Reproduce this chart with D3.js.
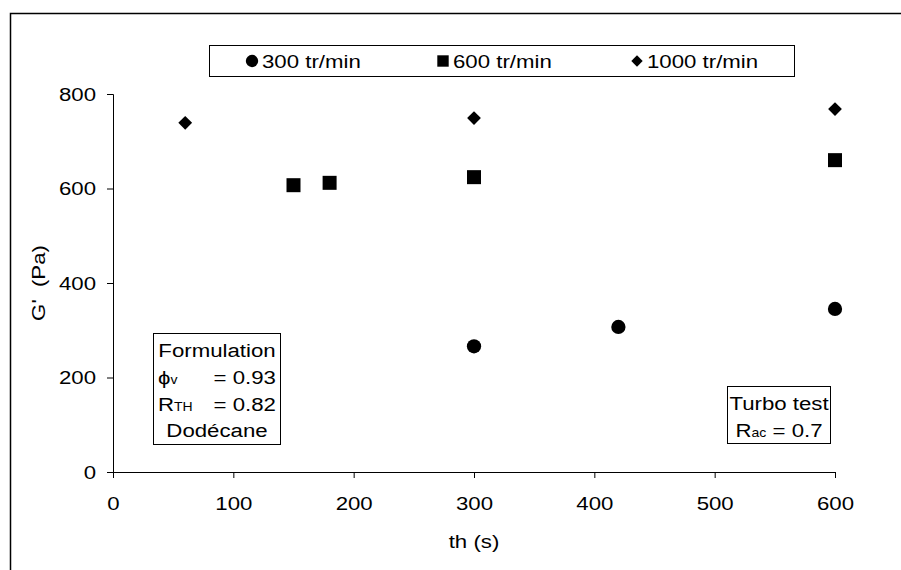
<!DOCTYPE html>
<html><head><meta charset="utf-8">
<script src="https://cdn.jsdelivr.net/npm/d3@7"></script>
<style>body{margin:0;background:#fff}text{font-family:"Liberation Sans",Arial,sans-serif;fill:#000;white-space:pre}</style>
</head><body><svg id="c" width="901" height="570"></svg>
<script>
const series = ["300 tr/min","600 tr/min","1000 tr/min"];
const s300x = [300,420,600];
const s300y = [266,307,345];
const s600x = [150,180,300,600];
const s600y = [607,612,624,660];
const s1000x = [60,300,600];
const s1000y = [739,749,768];
const xTicks = [0,100,200,300,400,500,600];
const yTicks = [0,200,400,600,800];

const FS = "19px", SUB = "12px", SX = 1.17;
const svg = d3.select("#c");
const x = d3.scaleLinear().domain([0,600]).range([113,835]);
const y = d3.scaleLinear().domain([0,800]).range([472,94]);

// stretch text horizontally about its own origin
function stretch(sel){
  sel.each(function(){
    const xv = +(this.getAttribute("x")||0);
    this.setAttribute("x", xv/SX);
    const t = this.getAttribute("transform")||"";
    this.setAttribute("transform", t+` scale(${SX},1)`);
  });
}

svg.append("rect").attr("x",10.5).attr("y",13.5).attr("width",900).attr("height",570)
  .attr("fill","none").attr("stroke","#000").attr("stroke-width",1.5);

const xa = svg.append("g").attr("transform","translate(0,472)")
  .call(d3.axisBottom(x).tickValues(xTicks).tickSize(6).tickPadding(19));
const ya = svg.append("g").attr("transform","translate(113,0)")
  .call(d3.axisLeft(y).tickValues(yTicks).tickSize(6).tickPadding(11));
[xa,ya].forEach(a=>{a.select(".domain").attr("stroke","#000");a.selectAll("line").attr("stroke","#000");
  a.selectAll("text").style("font-size",FS).style("font-family","Liberation Sans, Arial, sans-serif").attr("fill","#000");
  stretch(a.selectAll("text"));});

stretch(svg.append("text").attr("x",474).attr("y",548).attr("text-anchor","middle").style("font-size",FS).text("th (s)"));
stretch(svg.append("text").attr("transform","translate(45,283) rotate(-90)").attr("text-anchor","middle").style("font-size",FS).text("G'  (Pa)"));

const sym = [d3.symbolCircle, d3.symbolSquare, d3.symbolSquare];
const rot = [0,0,45];
const sizes = [160, 196, 95];
const data = [
  s300x.map((v,i)=>[v,s300y[i]]),
  s600x.map((v,i)=>[v,s600y[i]]),
  s1000x.map((v,i)=>[v,s1000y[i]])
];
data.forEach((d,k)=>{
  svg.append("g").selectAll("path").data(d).join("path")
    .attr("d", d3.symbol().type(sym[k]).size(sizes[k]))
    .attr("transform", p=>`translate(${x(p[0])},${y(p[1])}) rotate(${rot[k]})`)
    .attr("fill","#000");
});

// legend
svg.append("rect").attr("x",209.5).attr("y",45.5).attr("width",585).attr("height",31).attr("fill","#fff").attr("stroke","#000");
const legX = [252, 443, 637];
const legSizes = [120, 130, 65];
series.forEach((s,i)=>{
  svg.append("path").attr("d", d3.symbol().type(sym[i]).size(legSizes[i])).attr("transform",`translate(${legX[i]},61) rotate(${rot[i]})`).attr("fill","#000");
  stretch(svg.append("text").attr("x",legX[i]+10).attr("y",68).style("font-size",FS).text(s));
});

// annotation box 1
svg.append("rect").attr("x",153.5).attr("y",333.5).attr("width",127).attr("height",111).attr("fill","#fff").attr("stroke","#000");
const tx = [];
tx.push(svg.append("text").attr("x",217).attr("y",357).attr("text-anchor","middle").style("font-size",FS).text("Formulation"));
const t2 = svg.append("text").attr("x",158).attr("y",384).style("font-size",FS);
t2.append("tspan").text("\u03D5");
t2.append("tspan").style("font-size",SUB).text("v");
tx.push(t2);
tx.push(svg.append("text").attr("x",276).attr("y",384).attr("text-anchor","end").style("font-size",FS).text("= 0.93"));
const t3 = svg.append("text").attr("x",158).attr("y",411).style("font-size",FS);
t3.append("tspan").text("R");
t3.append("tspan").style("font-size",SUB).text("TH");
tx.push(t3);
tx.push(svg.append("text").attr("x",276).attr("y",411).attr("text-anchor","end").style("font-size",FS).text("= 0.82"));
tx.push(svg.append("text").attr("x",217).attr("y",437).attr("text-anchor","middle").style("font-size",FS).text("Dodécane"));

// annotation box 2
svg.append("rect").attr("x",727.5).attr("y",386.5).attr("width",103).attr("height",57).attr("fill","#fff").attr("stroke","#000");
tx.push(svg.append("text").attr("x",779).attr("y",410).attr("text-anchor","middle").style("font-size",FS).text("Turbo test"));
const t4 = svg.append("text").attr("x",779).attr("y",437).attr("text-anchor","middle").style("font-size",FS);
t4.append("tspan").text("R");
t4.append("tspan").style("font-size",SUB).text("ac");
t4.append("tspan").text(" = 0.7");
tx.push(t4);
tx.forEach(stretch);
</script></body></html>
